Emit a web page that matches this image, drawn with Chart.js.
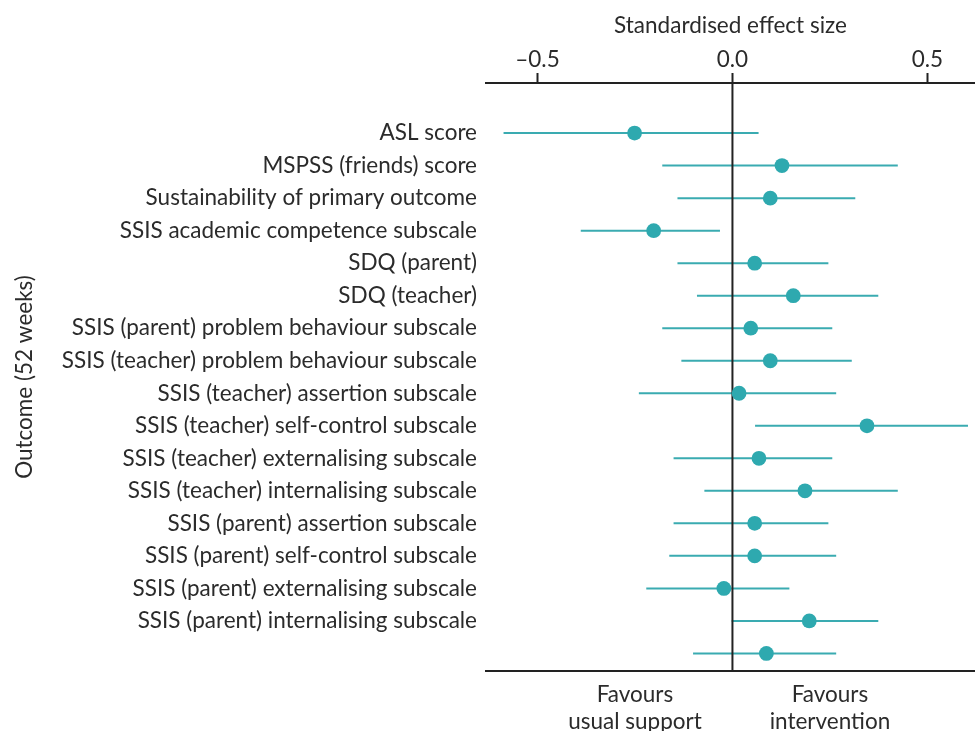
<!DOCTYPE html>
<html>
<head>
<meta charset="utf-8">
<script src="https://cdn.jsdelivr.net/npm/chart.js@4/dist/chart.umd.min.js"></script>
<style>
html,body{margin:0;padding:0;background:#fff;}
#wrap{width:975px;height:731px;position:relative;}
</style>
</head>
<body>
<div id="wrap"><canvas id="c" width="975" height="731"></canvas></div>
<script>
const outcomeLabels = [
  "ASL score",
  "MSPSS (friends) score",
  "Sustainability of primary outcome",
  "SSIS academic competence subscale",
  "SDQ (parent)",
  "SDQ (teacher)",
  "SSIS (parent) problem behaviour subscale",
  "SSIS (teacher) problem behaviour subscale",
  "SSIS (teacher) assertion subscale",
  "SSIS (teacher) self-control subscale",
  "SSIS (teacher) externalising subscale",
  "SSIS (teacher) internalising subscale",
  "SSIS (parent) assertion subscale",
  "SSIS (parent) self-control subscale",
  "SSIS (parent) externalising subscale",
  "SSIS (parent) internalising subscale",
  ""
];
const estimate = [-0.251, 0.127, 0.097, -0.202, 0.057, 0.156, 0.047, 0.097, 0.017, 0.345, 0.068, 0.186, 0.057, 0.057, -0.022, 0.197, 0.087];
const lowerCI  = [-0.587, -0.180, -0.141, -0.389, -0.141, -0.091, -0.180, -0.131, -0.240, 0.058, -0.151, -0.072, -0.151, -0.162, -0.221, -0.002, -0.101];
const upperCI  = [0.067, 0.424, 0.315, -0.032, 0.246, 0.374, 0.256, 0.306, 0.266, 0.604, 0.256, 0.424, 0.246, 0.266, 0.146, 0.374, 0.266];
const xTickValues = [-0.5, 0, 0.5];
const favourValues = [-0.25, 0.25];
const favourLabels = [["Favours", "usual support"], ["Favours", "intervention"]];

const FONT = "Lato";
const FS = 22.5;
const TXT = "#2b2b2b";
const TEAL = "#2ea9af";
const TEAL_LINE = "#3aabb1";
const yMin = -1.54, yMax = outcomeLabels.length - 1 + 0.54;

const datasets = [];
estimate.forEach((v, i) => {
  datasets.push({
    type: 'line',
    data: [{x: lowerCI[i], y: i}, {x: upperCI[i], y: i}],
    borderColor: TEAL_LINE,
    borderWidth: 2,
    pointRadius: 0,
    fill: false,
    order: 3,
    xAxisID: 'x',
    yAxisID: 'y'
  });
});
datasets.push({
  type: 'line',
  data: [{x: 0, y: yMin}, {x: 0, y: yMax}],
  borderColor: '#222',
  borderWidth: 2,
  pointRadius: 0,
  fill: false,
  order: 2,
  xAxisID: 'x',
  yAxisID: 'y'
});
datasets.push({
  type: 'scatter',
  data: estimate.map((v, i) => ({x: v, y: i})),
  backgroundColor: TEAL,
  borderColor: TEAL,
  borderWidth: 0,
  pointRadius: 7.4,
  order: 1,
  xAxisID: 'x',
  yAxisID: 'y'
});

new Chart(document.getElementById('c'), {
  type: 'scatter',
  data: {datasets},
  options: {
    responsive: false,
    animation: false,
    devicePixelRatio: 1,
    layout: {autoPadding: false, padding: {left: 0, right: 0, top: 0, bottom: 0}},
    plugins: {legend: {display: false}, tooltip: {enabled: false}},
    scales: {
      x: {
        type: 'linear',
        position: 'top',
        min: -0.632, max: 0.622,
        afterBuildTicks: s => { s.ticks = xTickValues.map(v => ({value: v})); },
        afterFit: s => { s.height = 83; },
        ticks: {
          color: TXT, font: {family: FONT, size: FS}, padding: 0,
          maxRotation: 0,
          callback: v => (v < 0 ? '\u2013' + Math.abs(v).toFixed(1) : v.toFixed(1))
        },
        grid: {drawOnChartArea: false, drawTicks: true, tickLength: 10, tickWidth: 2, color: '#222'},
        border: {display: true, color: '#222', width: 2},
        title: {display: true, text: 'Standardised effect size', color: TXT, font: {family: FONT, size: FS}, padding: {top: 12, bottom: 0}}
      },
      x2: {
        type: 'linear',
        position: 'bottom',
        min: -0.632, max: 0.622,
        afterBuildTicks: s => { s.ticks = favourValues.map(v => ({value: v})); },
        afterFit: s => { s.height = 731 - 671; },
        ticks: {
          color: TXT, font: {family: FONT, size: FS, lineHeight: 1.2}, padding: 10, maxRotation: 0,
          callback: (v, idx) => favourLabels[idx]
        },
        grid: {display: false, drawTicks: false},
        border: {display: true, color: '#222', width: 2}
      },
      y: {
        type: 'linear',
        position: 'left',
        reverse: true,
        min: yMin, max: yMax,
        afterBuildTicks: s => { s.ticks = outcomeLabels.map((l, i) => ({value: i})); },
        afterFit: s => { s.width = 486; },
        ticks: {
          color: TXT, font: {family: FONT, size: FS}, padding: 9, autoSkip: false,
          callback: v => outcomeLabels[v]
        },
        grid: {display: false, drawTicks: false},
        border: {display: false},
        title: {display: true, text: 'Outcome (52 weeks)', color: TXT, font: {family: FONT, size: FS}, padding: {top: 11, bottom: 0}}
      }
    }
  }
});
</script>
</body>
</html>
